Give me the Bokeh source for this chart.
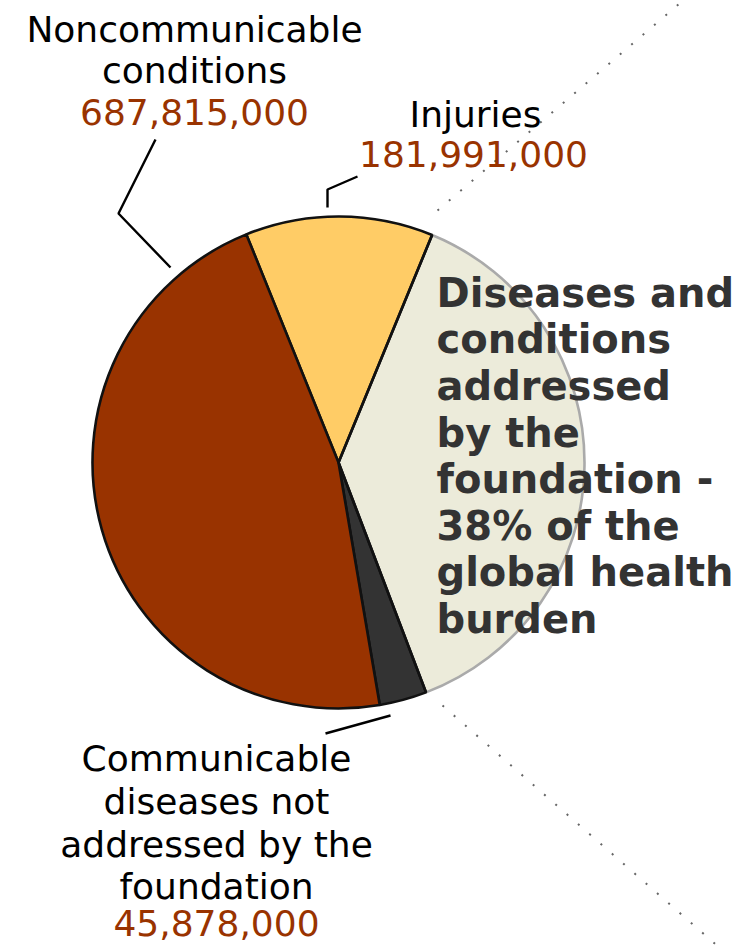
import numpy as np
from bokeh.plotting import figure
from bokeh.models import Range1d
from bokeh.core.properties import value
from bokeh.embed import file_html
from bokeh.resources import INLINE

# ---- data ----
categories = ["Injuries",
              "Diseases and conditions addressed by the foundation",
              "Communicable diseases not addressed by the foundation",
              "Noncommunicable conditions"]
values = [181_991_000, 561_226_000, 45_878_000, 687_815_000]
colors = ["#FFCC66", "#ECEBDA", "#333333", "#993300"]
share_addressed = "38%"

W, H = 742, 947
def Y(y):
    return H - y

p = figure(width=W, height=H, output_backend="svg", toolbar_location=None,
           x_range=Range1d(0, W), y_range=Range1d(0, H), min_border=0)
p.axis.visible = False
p.grid.visible = False
p.outline_line_color = None
p.background_fill_color = "white"

# ---- pie ----
cx, cy, r = 338, 462, 246
start_compass = -22.0
vals = np.array(values, dtype=float)
spans = vals / vals.sum() * 360.0
ends = start_compass + np.cumsum(spans)
starts = ends - spans
m_start = np.radians(90 - ends)
m_end = np.radians(90 - starts)

order = [1, 0, 2, 3]
for i in order:
    lc = "#AAAAAA" if i == 1 else "#111111"
    p.wedge(x=cx, y=Y(cy), radius=r, start_angle=m_start[i], end_angle=m_end[i],
            fill_color=colors[i], line_color=lc, line_width=2.6)
for ang in (m_start[1], m_end[1]):
    p.line([cx, cx + r * np.cos(ang)], [Y(cy), Y(cy) + r * np.sin(ang)],
           line_color="#111111", line_width=2.6)

# ---- dotted "zoom" lines ----
p.line([437, 686], [Y(210), Y(-3)], line_color="#666666", line_width=2, line_dash="2 13")
p.line([442, 721], [Y(705), Y(949)], line_color="#666666", line_width=2, line_dash="2 13")

# ---- leader lines ----
p.line([155, 118, 170], [Y(139), Y(213), Y(267)], line_color="black", line_width=2.4)
p.line([327, 327, 357], [Y(207), Y(189), Y(176)], line_color="black", line_width=2.4)
p.line([390, 325], [Y(715), Y(733)], line_color="black", line_width=2.4)

font = value("DejaVu Sans")
FS = 36
OFF = 0.37  # baseline correction in em

def label(lines, x, ys, color="black"):
    for t, yy in zip(lines, ys):
        p.text(x=[x], y=[Y(yy - OFF * FS)], text=[t], text_font=font,
               text_font_size=f"{FS}px", text_color=color, text_align="center",
               text_baseline="alphabetic")

label(["Noncommunicable", "conditions"], 194, [42, 83])
label([f"{values[3]:,}"], 194, [125], color="#993300")
label(["Injuries"], 475, [127])
label([f"{values[0]:,}"], 473, [167], color="#993300")
label(["Communicable", "diseases not", "addressed by the", "foundation"], 216, [771, 814, 857, 899])
label([f"{values[2]:,}"], 216, [936], color="#993300")

BFS = 40
bold_lines = ["Diseases and", "conditions", "addressed", "by the", "foundation -",
              f"{share_addressed} of the", "global health", "burden"]
for k, t in enumerate(bold_lines):
    p.text(x=[436], y=[Y(307 + 46.6 * k - OFF * BFS)], text=[t], text_font=font,
           text_font_size=f"{BFS}px", text_font_style="bold", text_color="#333333",
           text_align="left", text_baseline="alphabetic")

open("out.html", "w").write(file_html(p, INLINE))
